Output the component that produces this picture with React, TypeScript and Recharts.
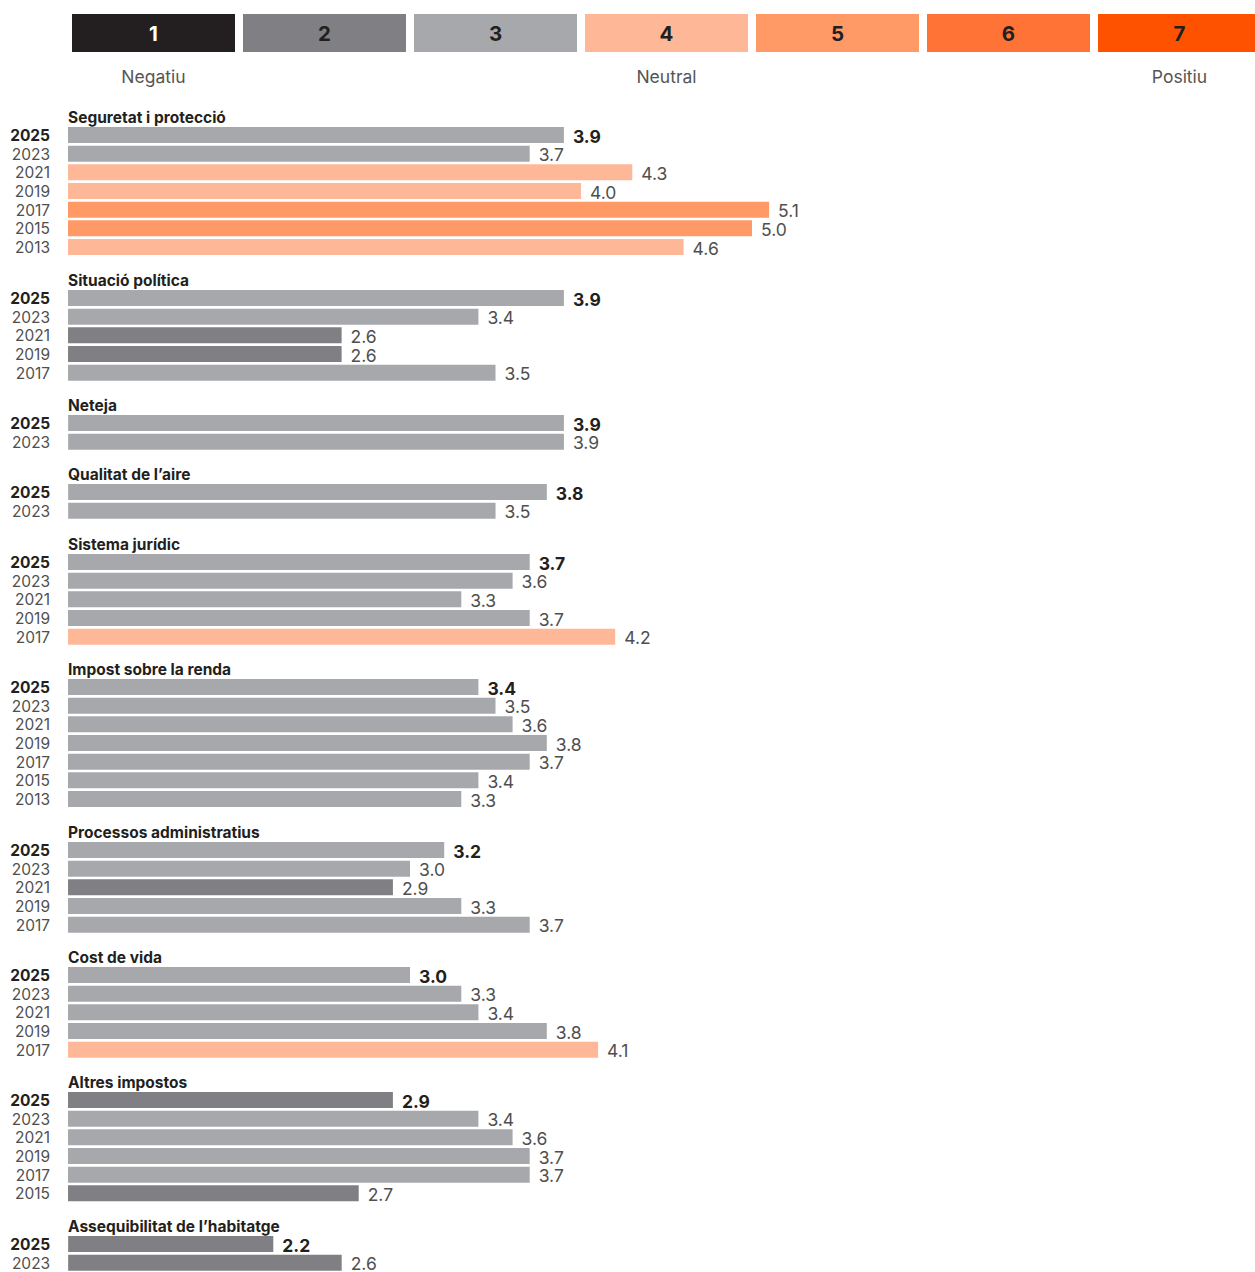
import { BarChart, Bar, XAxis, YAxis, Cell, LabelList } from "recharts";

// escala 1-7
const levels = ["1", "2", "3", "4", "5", "6", "7"];
const levelNames = ["Negatiu", "", "", "Neutral", "", "", "Positiu"];
const levelColors = ["#231f20", "#808084", "#a7a8ac", "#ffb897", "#ff9966", "#ff7436", "#ff5200"];

const titles = [
  "Seguretat i protecció",
  "Situació política",
  "Neteja",
  "Qualitat de l’aire",
  "Sistema jurídic",
  "Impost sobre la renda",
  "Processos administratius",
  "Cost de vida",
  "Altres impostos",
  "Assequibilitat de l’habitatge",
];

const years = [
  ["2025", "2023", "2021", "2019", "2017", "2015", "2013"],
  ["2025", "2023", "2021", "2019", "2017"],
  ["2025", "2023"],
  ["2025", "2023"],
  ["2025", "2023", "2021", "2019", "2017"],
  ["2025", "2023", "2021", "2019", "2017", "2015", "2013"],
  ["2025", "2023", "2021", "2019", "2017"],
  ["2025", "2023", "2021", "2019", "2017"],
  ["2025", "2023", "2021", "2019", "2017", "2015"],
  ["2025", "2023"],
];

const scores = [
  [3.9, 3.7, 4.3, 4.0, 5.1, 5.0, 4.6],
  [3.9, 3.4, 2.6, 2.6, 3.5],
  [3.9, 3.9],
  [3.8, 3.5],
  [3.7, 3.6, 3.3, 3.7, 4.2],
  [3.4, 3.5, 3.6, 3.8, 3.7, 3.4, 3.3],
  [3.2, 3.0, 2.9, 3.3, 3.7],
  [3.0, 3.3, 3.4, 3.8, 4.1],
  [2.9, 3.4, 3.6, 3.7, 3.7, 2.7],
  [2.2, 2.6],
];

const ROW = 18.67;
const PAD = 8; // room under the last row for its label
const DARK = "#231f20";
const GREY = "#4f4f4f";
const FONT = "Inter, 'Noto Sans', sans-serif";

const colorFor = (v: number) => levelColors[Math.floor(v) - 1];

const YearTick = (props: any) => {
  const { x, y, payload } = props;
  const bold = payload.value === "2025";
  return (
    <text
      x={x}
      y={y}
      dy="0.36em"
      textAnchor="end"
      fontSize={15.5}
      fontWeight={bold ? 700 : 400}
      fill={bold ? DARK : GREY}
      fontFamily={FONT}
    >
      {payload.value}
    </text>
  );
};

const ValueLabel = (props: any) => {
  const { x, y, width, height, value, index } = props;
  const bold = index === 0;
  return (
    <text
      x={x + width + 9}
      y={y + height / 2 + 7.6}
      fontSize={17.5}
      fontWeight={bold ? 700 : 400}
      fill={bold ? DARK : GREY}
      fontFamily={FONT}
    >
      {Number(value).toFixed(1)}
    </text>
  );
};

const LevelLabel = (props: any) => {
  const { x, y, width, height, value, index } = props;
  return (
    <text
      x={x + width / 2}
      y={y + height / 2 + 7.5}
      textAnchor="middle"
      fontSize={20.5}
      fontWeight={700}
      fill={index === 0 ? "#fff" : DARK}
      fontFamily={FONT}
    >
      {value}
    </text>
  );
};

const ScaleLegend = () => {
  const data = levels.map((level) => ({ level, one: 1 }));
  return (
    <BarChart
      width={1265}
      height={110}
      data={data}
      margin={{ top: 14, right: 0, bottom: 0, left: 68 }}
      barCategoryGap={0}
    >
      <XAxis
        dataKey="level"
        type="category"
        height={58}
        axisLine={false}
        tickLine={false}
        tickSize={0}
        tickMargin={19}
        interval={0}
        tickFormatter={(_v: string, i: number) => levelNames[i]}
        tick={{ fontSize: 17.5, fill: "#555", fontFamily: FONT }}
      />
      <YAxis hide domain={[0, 1]} />
      <Bar dataKey="one" barSize={163} isAnimationActive={false}>
        {data.map((d, i) => (
          <Cell key={d.level} fill={levelColors[i]} />
        ))}
        <LabelList dataKey="level" content={LevelLabel} />
      </Bar>
    </BarChart>
  );
};

const Group = ({ gi }: { gi: number }) => {
  const rows = years[gi].map((year, i) => ({ year, value: scores[gi][i] }));
  return (
    <div>
      <div
        style={{
          height: 16,
          lineHeight: "16px",
          paddingLeft: 68,
          fontSize: 15.5,
          fontWeight: 700,
          color: DARK,
          whiteSpace: "nowrap",
        }}
      >
        {titles[gi]}
      </div>
      <BarChart
        layout="vertical"
        width={1265}
        height={rows.length * ROW + PAD}
        data={rows}
        margin={{ top: 0, right: 0, bottom: PAD, left: 0 }}
        barCategoryGap={0}
      >
        <XAxis type="number" domain={[1, 8]} hide />
        <YAxis
          type="category"
          dataKey="year"
          width={68}
          axisLine={false}
          tickLine={false}
          tickSize={0}
          tickMargin={18}
          interval={0}
          tick={YearTick}
        />
        <Bar dataKey="value" barSize={16} isAnimationActive={false}>
          {rows.map((r) => (
            <Cell key={r.year} fill={colorFor(r.value)} />
          ))}
          <LabelList dataKey="value" content={ValueLabel} />
        </Bar>
      </BarChart>
      <div style={{ height: 16 - PAD }} />
    </div>
  );
};

export default function App() {
  return (
    <div
      style={{
        position: "absolute",
        left: 0,
        top: 0,
        width: 1255,
        height: 1272,
        overflow: "hidden",
        background: "#fff",
        fontFamily: FONT,
      }}
    >
      <ScaleLegend />
      {titles.map((_t, gi) => (
        <Group key={gi} gi={gi} />
      ))}
    </div>
  );
}
